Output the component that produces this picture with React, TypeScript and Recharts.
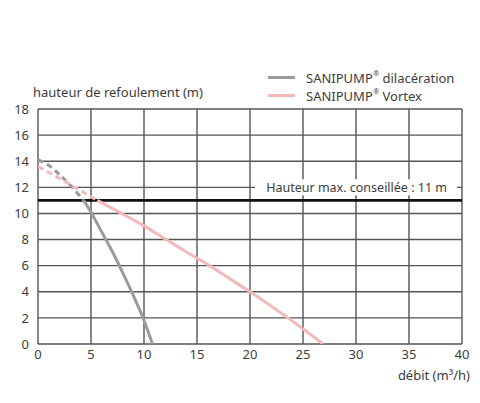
import React from 'react';
import { LineChart, Line, XAxis, YAxis, CartesianGrid, ReferenceLine } from 'recharts';

const FONT = '"Noto Sans", sans-serif';
const TEXT = '#3c3c3c';

const xTicks = [0, 5, 10, 15, 20, 25, 30, 35, 40];
const yTicks = [0, 2, 4, 6, 8, 10, 12, 14, 16, 18];

// SANIPUMP dilacération (grey)
const greyDashedX = [0, 1, 2, 3, 4.3];
const greyDashedY = [14.1, 13.7, 13.0, 12.2, 11];
const greySolidX = [4.3, 5, 6, 7, 8, 9, 10, 10.8];
const greySolidY = [11, 10.1, 8.6, 7.1, 5.45, 3.7, 1.8, 0];

// SANIPUMP Vortex (pink)
const pinkDashedX = [0, 2, 4, 5.6];
const pinkDashedY = [13.6, 12.7, 11.75, 11];
const pinkSolidX = [5.6, 8, 10, 12, 14, 16, 18, 20, 22, 24, 26, 26.9];
const pinkSolidY = [11, 9.95, 9.05, 8.05, 7.05, 6.1, 5.05, 4.0, 2.9, 1.75, 0.55, 0];

const seriesNames = ['SANIPUMP® dilacération', 'SANIPUMP® Vortex'];
const seriesColors = ['#9b9b9f', '#f2b9b8'];

const maxHeight = 11;
const maxLabel = 'Hauteur max. conseillée : 11 m';
const yTitle = 'hauteur de refoulement (m)';
const xTitle = 'débit (m³/h)';

const toPts = (xs: number[], ys: number[]) => xs.map((x, i) => ({ x, y: ys[i] }));

const MaxLabel = (props: any) => {
  const vb = props.viewBox || {};
  const right = vb.x + vb.width - 15;
  return (
    <g>
      <rect x={vb.x + vb.width - 207} y={vb.y - 8} width={202} height={16} fill="#fff" />
      <text x={right} y={vb.y} dy="0.35em" textAnchor="end" fontFamily={FONT} fontSize={12.5} fill={TEXT}>
        {maxLabel}
      </text>
    </g>
  );
};

const renderName = (n: string) => {
  const parts = n.split('®');
  if (parts.length < 2) return n;
  return (
    <>
      {parts[0]}
      <span style={{ fontSize: 7, verticalAlign: 'top', lineHeight: '10px', marginLeft: 0.5 }}>®</span>
      {parts[1]}
    </>
  );
};

export default function App() {
  return (
    <div style={{ position: 'absolute', left: 0, top: 0, width: 480, height: 403, background: '#fff', fontFamily: FONT }}>
      <LineChart width={480} height={403} margin={{ top: 109, right: 18, bottom: 29, left: 8 }}>
        <CartesianGrid stroke="#555" strokeWidth={1.4} horizontalValues={yTicks} verticalValues={xTicks} />
        <XAxis
          type="number"
          dataKey="x"
          domain={[0, 40]}
          ticks={xTicks}
          axisLine={false}
          tickLine={false}
          tickSize={4}
          tickMargin={2}
          height={30}
          interval={0}
          tick={{ fontFamily: FONT, fontSize: 13, fill: TEXT }}
          allowDataOverflow
        />
        <YAxis
          type="number"
          dataKey="y"
          domain={[0, 18]}
          ticks={yTicks}
          axisLine={false}
          tickLine={false}
          tickSize={6}
          tickMargin={3}
          width={30}
          interval={0}
          tick={{ fontFamily: FONT, fontSize: 13, fill: TEXT }}
          allowDataOverflow
        />
        <ReferenceLine y={12} stroke="none" label={<MaxLabel />} />
        <ReferenceLine y={maxHeight} stroke="#111" strokeWidth={2.6} />
        <Line data={toPts(greyDashedX, greyDashedY)} dataKey="y" type="monotone" stroke={seriesColors[0]} strokeWidth={3} strokeDasharray="6 4" dot={false} isAnimationActive={false} />
        <Line data={toPts(greySolidX, greySolidY)} dataKey="y" type="monotone" stroke={seriesColors[0]} strokeWidth={3} dot={false} isAnimationActive={false} />
        <Line data={toPts(pinkDashedX, pinkDashedY)} dataKey="y" type="monotone" stroke={seriesColors[1]} strokeWidth={3} strokeDasharray="6 4" dot={false} isAnimationActive={false} />
        <Line data={toPts(pinkSolidX, pinkSolidY)} dataKey="y" type="monotone" stroke={seriesColors[1]} strokeWidth={3} dot={false} isAnimationActive={false} />
      </LineChart>
      <div style={{ position: 'absolute', left: 33, top: 83, fontSize: 13, color: TEXT, lineHeight: '18px', whiteSpace: 'nowrap' }}>{yTitle}</div>
      <div style={{ position: 'absolute', right: 10, top: 366, fontSize: 13, color: TEXT, lineHeight: '18px', whiteSpace: 'nowrap' }}>{xTitle}</div>
      <div style={{ position: 'absolute', left: 268, top: 68.5, fontSize: 13, color: TEXT, whiteSpace: 'nowrap' }}>
        {seriesNames.map((n, i) => (
          <div key={n} style={{ display: 'flex', alignItems: 'center', height: 18, lineHeight: '18px' }}>
            <span style={{ display: 'inline-block', width: 27, height: 3, background: seriesColors[i], marginRight: 11 }} />
            <span style={{ lineHeight: '18px' }}>{renderName(n)}</span>
          </div>
        ))}
      </div>
    </div>
  );
}
